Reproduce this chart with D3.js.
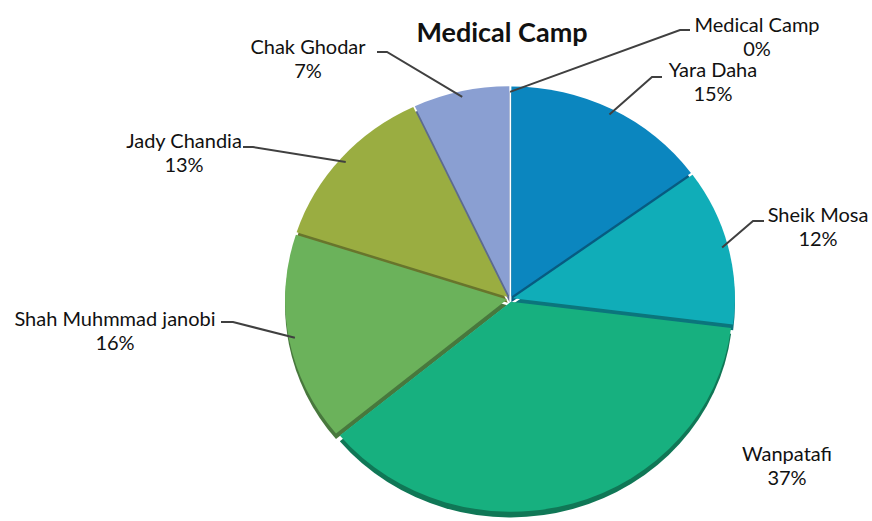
<!DOCTYPE html>
<html>
<head>
<meta charset="utf-8">
<script src="https://cdn.jsdelivr.net/npm/d3@7"></script>
<style>
body { margin: 0; background: #fff; }
text { font-family: Lato, "Open Sans", sans-serif; fill: #111; }
</style>
</head>
<body>
<script>
var width = 872, height = 521;

// data
var names = ['Medical Camp', 'Yara Daha', 'Sheik Mosa', 'Wanpatafi', 'Shah Muhmmad janobi', 'Jady Chandia', 'Chak Ghodar'];
var values = [0, 15, 12, 37, 16, 13, 7];
var colors = ['#cccccc', '#0b86bf', '#10adb8', '#17b07f', '#6bb25b', '#9aad41', '#8a9fd2'];

// label layout (label centre, leader elbow) - placed by hand like the original
var labelAt = {
  'Medical Camp':        {x: 757, y: 32, elbow: [[680, 30], [690, 30]]},
  'Yara Daha':           {x: 713, y: 77, elbow: [[652, 77], [662, 77]]},
  'Sheik Mosa':          {x: 818, y: 222, elbow: [[753, 221], [764, 221]]},
  'Wanpatafi':           {x: 787, y: 461, elbow: null},
  'Shah Muhmmad janobi': {x: 115, y: 326, elbow: [[233, 322], [221, 322]]},
  'Jady Chandia':        {x: 184, y: 148, elbow: [[253, 147], [243, 147]]},
  'Chak Ghodar':         {x: 308, y: 54, elbow: [[387, 52], [377, 52]]}
};

var cx = 510, cy = 299, r = 222, sy = 0.946, depth = 6, explode = 3;

var svg = d3.select('body').append('svg').attr('width', width).attr('height', height);

var data = names.map(function(n, i) { return {name: n, value: values[i], color: colors[i]}; });
var pie = d3.pie().sort(null).value(function(d) { return d.value; });
var arcs = pie(data);
var arc = d3.arc().innerRadius(0).outerRadius(r);

function off(d) {
  var a = (d.startAngle + d.endAngle) / 2;
  return [Math.sin(a) * explode, -Math.cos(a) * explode];
}

var g = svg.append('g').attr('transform', 'translate(' + cx + ',' + cy + ') scale(1,' + sy + ')');

var slices = arcs.filter(function(d) { return d.value > 0; });

// sides (3d edge)
g.selectAll('path.side')
  .data(slices)
  .enter().append('path').attr('class', 'side')
  .attr('d', arc)
  .attr('fill', function(d) { return d3.color(d.data.color).darker(1.1); })
  .attr('transform', function(d) { var o = off(d); return 'translate(' + o[0] + ',' + (o[1] + depth) + ')'; });

// tops
g.selectAll('path.top')
  .data(slices)
  .enter().append('path').attr('class', 'top')
  .attr('d', arc)
  .attr('fill', function(d) { return d.data.color; })
  .attr('transform', function(d) { var o = off(d); return 'translate(' + o[0] + ',' + o[1] + ')'; });

// leader lines
function edgePoint(d) {
  var a = (d.startAngle + d.endAngle) / 2, o = off(d);
  return [cx + o[0] + Math.sin(a) * (r - 6), cy + (o[1] - Math.cos(a) * (r - 6)) * sy];
}
arcs.forEach(function(d) {
  var L = labelAt[d.data.name];
  if (L.elbow) {
    var pts = [edgePoint(d)].concat(L.elbow);
    svg.append('path')
      .attr('d', d3.line()(pts))
      .attr('fill', 'none')
      .attr('stroke', '#404040')
      .attr('stroke-width', 2);
  }
  var t = svg.append('text')
    .attr('x', L.x).attr('y', L.y)
    .attr('text-anchor', 'middle')
    .style('font-size', '20px');
  t.append('tspan').attr('x', L.x).text(d.data.name);
  t.append('tspan').attr('x', L.x).attr('dy', 24).text(d3.format('.0%')(d.value / d3.sum(values)));
});

svg.append('text')
  .attr('x', 502).attr('y', 42)
  .attr('text-anchor', 'middle')
  .style('font-size', '27px')
  .style('font-weight', 'bold')
  .text('Medical Camp');
</script>
</body>
</html>
